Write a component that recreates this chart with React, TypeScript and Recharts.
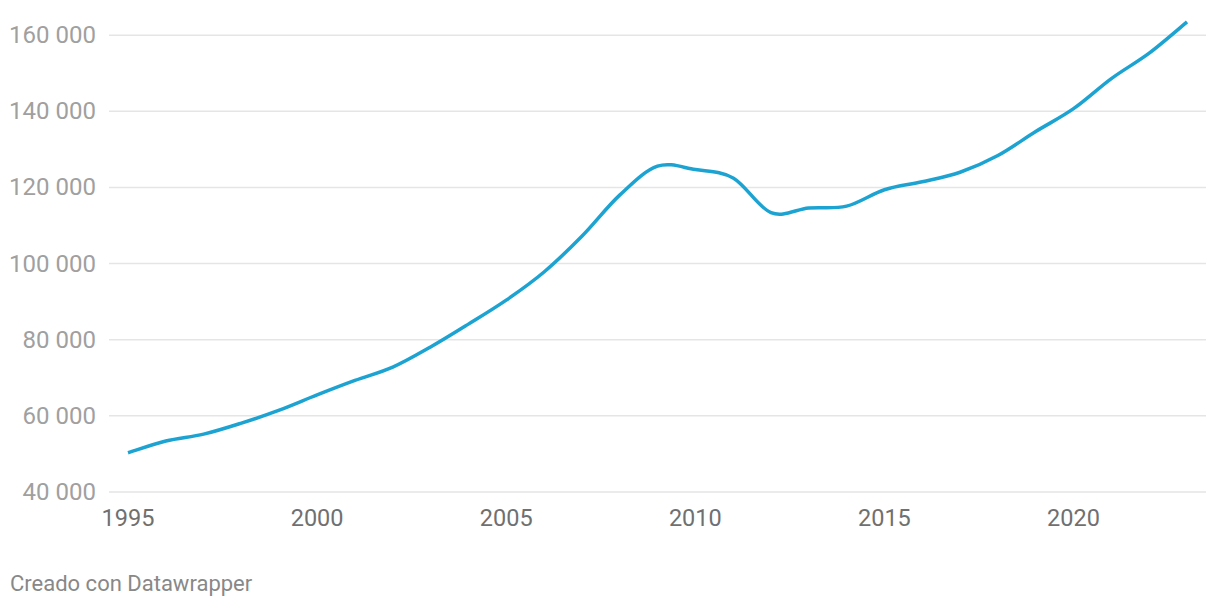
import { LineChart, Line, XAxis, YAxis, CartesianGrid } from "recharts"

const years = [
 1995, 1996, 1997, 1998, 1999, 2000, 2001, 2002, 2003, 2004,
 2005, 2006, 2007, 2008, 2009, 2010, 2011, 2012, 2013, 2014,
 2015, 2016, 2017, 2018, 2019, 2020, 2021, 2022, 2023,
]

const values = [
 50300, 53400, 55200, 58100, 61500, 65500, 69300, 72800, 78100, 84100,
 90400, 97800, 107200, 118000, 125600, 124700, 122500, 113400, 114600, 115100,
 119400, 121500, 124000, 128400, 134700, 140700, 148600, 155300, 163500,
]

const xTicks = [1995, 2000, 2005, 2010, 2015, 2020]
const yTicks = [40000, 60000, 80000, 100000, 120000, 140000, 160000]

const data = years.map((year, i) => ({ year, value: values[i] }))

const font = "Roboto, 'Noto Sans', sans-serif"

const formatNumber = (v: number) =>
 String(v).replace(/\B(?=(\d{3})+(?!\d))/g, " ")

// catmull-rom style smoothing (the datawrapper curve overshoots a little at the peaks)
const smoothCurve = (context: any) => {
 let pts: number[][] = []
 return {
  areaStart() {},
  areaEnd() {},
  lineStart() {
   pts = []
  },
  point(x: number, y: number) {
   pts.push([+x, +y])
  },
  lineEnd() {
   if (!pts.length) return
   context.moveTo(pts[0][0], pts[0][1])
   for (let i = 0; i < pts.length - 1; i++) {
    const p0 = pts[i - 1] || pts[i]
    const p1 = pts[i]
    const p2 = pts[i + 1]
    const p3 = pts[i + 2] || p2
    context.bezierCurveTo(
     p1[0] + (p2[0] - p0[0]) / 6,
     p1[1] + (p2[1] - p0[1]) / 6,
     p2[0] - (p3[0] - p1[0]) / 6,
     p2[1] - (p3[1] - p1[1]) / 6,
     p2[0],
     p2[1],
    )
   }
  },
 }
}

const YTick = (props: any) => {
 const { y, payload } = props
 return (
  <text
   x={96}
   y={y}
   dy={8}
   textAnchor="end"
   fill="#a0a0a0"
   fontSize={24}
   fontFamily={font}
  >
   {formatNumber(payload.value)}
  </text>
 )
}

const XTick = (props: any) => {
 const { x, y, payload } = props
 return (
  <text
   x={x}
   y={y}
   dy={26}
   textAnchor="middle"
   fill="#707070"
   fontSize={23.5}
   fontFamily={font}
  >
   {payload.value}
  </text>
 )
}

export default function App() {
 return (
  <div
   style={{
    position: "relative",
    width: 1220,
    height: 608,
    margin: "-8px 0 0 -8px",
    background: "#fff",
   }}
  >
   <LineChart
    width={1220}
    height={608}
    data={data}
    margin={{ top: 20, right: 14, left: 0, bottom: 76 }}
   >
    <CartesianGrid
     vertical={false}
     stroke="#e5e5e5"
     strokeWidth={1.5}
     syncWithTicks
    />
    <XAxis
     dataKey="year"
     type="number"
     domain={[1995, 2023]}
     ticks={xTicks}
     padding={{ left: 19, right: 19 }}
     axisLine={false}
     tickLine={false}
     height={40}
     tick={<XTick />}
    />
    <YAxis
     domain={[40000, 164000]}
     ticks={yTicks}
     width={109}
     axisLine={false}
     tickLine={false}
     tick={<YTick />}
    />
    <Line
     type={smoothCurve as any}
     dataKey="value"
     stroke="#1ca3d1"
     strokeWidth={3.5}
     dot={false}
     isAnimationActive={false}
    />
   </LineChart>
   <div
    style={{
     position: "absolute",
     left: 10,
     top: 571,
     fontFamily: font,
     fontSize: 22,
     color: "#888",
    }}
   >
    Creado con Datawrapper
   </div>
  </div>
 )
}
